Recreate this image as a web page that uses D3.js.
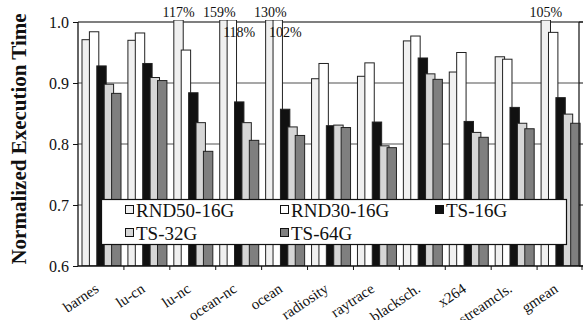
<!DOCTYPE html>
<html>
<head>
<meta charset="utf-8">
<script src="https://cdn.jsdelivr.net/npm/d3@7"></script>
<style>
  body { margin: 0; background: #fff; }
  svg text { font-family: "Liberation Serif", "Times New Roman", serif; }
</style>
</head>
<body>
<svg id="svg" width="583" height="320"></svg>
<script>
const W = 583;
const H = 320;

// categories and series
const benchmarks = ["barnes", "lu-cn", "lu-nc", "ocean-nc", "ocean", "radiosity", "raytrace", "blacksch.", "x264", "streamcls.", "gmean"];
const seriesNames = ["RND50-16G", "RND30-16G", "TS-16G", "TS-32G", "TS-64G"];
const rnd50 = [0.971, 0.970, 1.17, 1.59, 1.30, 0.907, 0.911, 0.969, 0.918, 0.943, 1.05];
const rnd30 = [0.984, 0.982, 0.954, 1.18, 1.02, 0.932, 0.933, 0.977, 0.950, 0.939, 0.983];
const ts16 = [0.928, 0.932, 0.884, 0.869, 0.857, 0.830, 0.836, 0.941, 0.837, 0.860, 0.876];
const ts32 = [0.898, 0.909, 0.835, 0.835, 0.828, 0.831, 0.797, 0.915, 0.819, 0.834, 0.849];
const ts64 = [0.883, 0.904, 0.788, 0.806, 0.814, 0.827, 0.794, 0.906, 0.811, 0.825, 0.834];
const yTicks = [0.6, 0.7, 0.8, 0.9, 1.0];

const seriesValues = [rnd50, rnd30, ts16, ts32, ts64];
const fills = ["#f0f0f0", "#ffffff", "#111111", "#d6d6d6", "#7f7f7f"];

const plotLeft = 78;
const plotRight = 579;
const plotTop = 22;
const plotBottom = 266;

let svg = d3.select("#svg");

let xScale = d3.scaleBand(benchmarks, [plotLeft, 583]).paddingInner(0).paddingOuter(0);
let yScale = d3.scaleLinear([0.6, 1.0], [plotBottom, plotTop]);

const barStep = 7.4;
const barWidth = 9.4;
const barOffset = 4;

// clip so overflowing bars stop at the top line
svg.append("clipPath")
  .attr("id", "plot-area")
  .append("rect")
  .attr("x", plotLeft)
  .attr("y", plotTop - 2)
  .attr("width", W - plotLeft)
  .attr("height", plotBottom - plotTop + 2);

// gridlines
svg.append("g")
  .selectAll("line")
  .data(yTicks.filter((t) => t > 0.6 && t < 1.0))
  .join("line")
  .attr("x1", plotLeft)
  .attr("x2", plotRight)
  .attr("y1", (d) => yScale(d))
  .attr("y2", (d) => yScale(d))
  .attr("stroke", "#8a8a8a")
  .attr("stroke-width", 1.3);

// top line
svg.append("line")
  .attr("x1", plotLeft)
  .attr("x2", W)
  .attr("y1", yScale(1.0))
  .attr("y2", yScale(1.0))
  .attr("stroke", "#555")
  .attr("stroke-width", 1.3);

// bars, drawn series by series inside each group so they overlap a little
let barsG = svg.append("g").attr("clip-path", "url(#plot-area)");
benchmarks.forEach((b, bi) => {
  seriesValues.forEach((vals, si) => {
    const v = vals[bi];
    const x = xScale(b) + barOffset + si * barStep;
    const yTop = Math.max(yScale(v), plotTop - 2);
    barsG.append("rect")
      .attr("x", x)
      .attr("y", yTop)
      .attr("width", barWidth)
      .attr("height", plotBottom - yTop)
      .attr("fill", fills[si])
      .attr("stroke", "#222")
      .attr("stroke-width", 1);
  });
});

// labels for bars that run past 1.0
benchmarks.forEach((b, bi) => {
  if (rnd50[bi] > 1.0) {
    svg.append("text")
      .attr("x", xScale(b) + barOffset + barWidth / 2 - (rnd50[bi] > 1.5 ? 5 : 0))
      .attr("y", 17)
      .attr("text-anchor", "middle")
      .attr("font-size", 14)
      .attr("fill", "#111")
      .text(Math.round(rnd50[bi] * 100) + "%");
  }
  if (rnd30[bi] > 1.0) {
    svg.append("text")
      .attr("x", xScale(b) + barOffset + barStep - 4)
      .attr("y", 37)
      .attr("text-anchor", "start")
      .attr("font-size", 14)
      .attr("fill", "#111")
      .text(Math.round(rnd30[bi] * 100) + "%");
  }
});

// frame: left axis, bottom axis, right edge
svg.append("line")
  .attr("x1", plotLeft).attr("x2", plotLeft)
  .attr("y1", plotTop).attr("y2", plotBottom)
  .attr("stroke", "#111").attr("stroke-width", 1.3);
svg.append("line")
  .attr("x1", plotRight).attr("x2", plotRight)
  .attr("y1", plotTop).attr("y2", plotBottom)
  .attr("stroke", "#222").attr("stroke-width", 1.3);
svg.append("line")
  .attr("x1", plotLeft).attr("x2", W)
  .attr("y1", plotBottom).attr("y2", plotBottom)
  .attr("stroke", "#111").attr("stroke-width", 1.3);

// y axis ticks + labels
let yAxis = d3.axisLeft(yScale)
  .tickValues(yTicks)
  .tickFormat(d3.format(".1f"))
  .tickSize(5)
  .tickPadding(4);
let yG = svg.append("g").attr("transform", `translate(${plotLeft},0)`).call(yAxis);
yG.select(".domain").remove();
yG.selectAll("line").attr("stroke", "#111");
yG.selectAll("text")
  .attr("font-family", "Liberation Serif, serif")
  .attr("font-size", 16)
  .attr("fill", "#111");

// right-side ticks
svg.append("g")
  .selectAll("line")
  .data(yTicks)
  .join("line")
  .attr("x1", plotRight)
  .attr("x2", plotRight + 4)
  .attr("y1", (d) => yScale(d))
  .attr("y2", (d) => yScale(d))
  .attr("stroke", "#111");

// x ticks at group boundaries
svg.append("g")
  .selectAll("line")
  .data(benchmarks.slice(1))
  .join("line")
  .attr("x1", (d) => xScale(d))
  .attr("x2", (d) => xScale(d))
  .attr("y1", plotBottom)
  .attr("y2", plotBottom + 4)
  .attr("stroke", "#111");
svg.append("line")
  .attr("x1", 582).attr("x2", 582)
  .attr("y1", plotBottom).attr("y2", plotBottom + 4)
  .attr("stroke", "#111");

// x labels
svg.append("g")
  .selectAll("text")
  .data(benchmarks)
  .join("text")
  .attr("transform", (d) => `translate(${xScale(d) + xScale.bandwidth() / 2 - 1},${291}) rotate(-34)`)
  .attr("text-anchor", "end")
  .attr("font-size", 15)
  .attr("fill", "#111")
  .text((d) => d);

// y axis title
svg.append("text")
  .attr("transform", `translate(26,139) rotate(-90)`)
  .attr("text-anchor", "middle")
  .attr("font-size", 21)
  .attr("font-weight", "bold")
  .attr("fill", "#111")
  .text("Normalized Execution Time");

// legend
let legend = svg.append("g");
legend.append("rect")
  .attr("x", 101.5)
  .attr("y", 199.5)
  .attr("width", 465)
  .attr("height", 45)
  .attr("fill", "#fff")
  .attr("stroke", "#111")
  .attr("stroke-width", 1.2);

const legendCols = 3;
seriesNames.forEach((name, i) => {
  const col = i % legendCols;
  const row = Math.floor(i / legendCols);
  const lx = 125 + col * 155;
  const ly = 210 + row * 23;
  legend.append("rect")
    .attr("x", lx + 0.5)
    .attr("y", ly - 4.5)
    .attr("width", 8)
    .attr("height", 8)
    .attr("fill", fills[i])
    .attr("stroke", "#111")
    .attr("stroke-width", 1);
  legend.append("text")
    .attr("x", lx + 11)
    .attr("y", ly + 6.5)
    .attr("font-size", 19)
    .attr("fill", "#111")
    .text(name);
});
</script>
</body>
</html>
